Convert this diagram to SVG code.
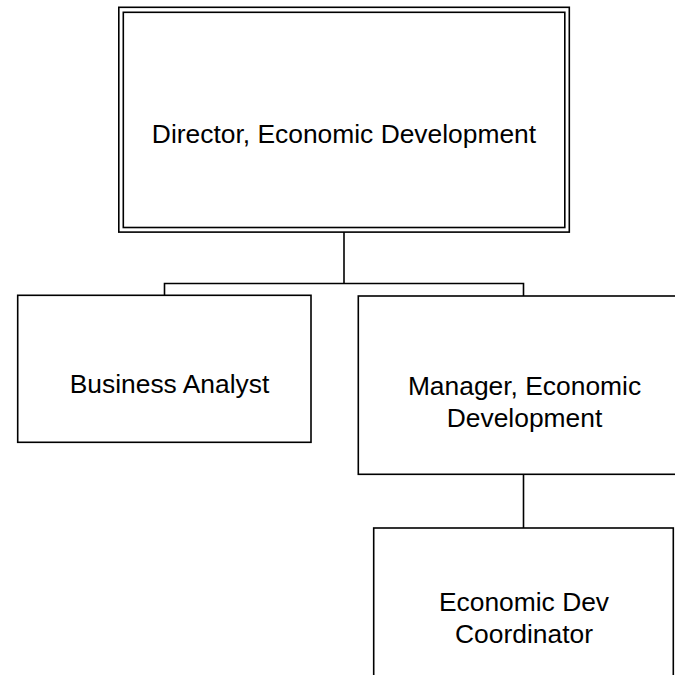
<svg xmlns="http://www.w3.org/2000/svg" width="675" height="675" viewBox="0 0 675 675">
<style>
.box{fill:#fff;stroke:#000;stroke-width:1.6}
.ln{fill:none;stroke:#000;stroke-width:1.6}
text{font-family:"Liberation Sans",Arial,sans-serif;font-size:26.4px;fill:#000;text-anchor:middle}
</style>
<rect width="675" height="675" fill="#fff"/>
<g id="connectors">
<line class="ln" x1="344" y1="232" x2="344" y2="283.5"/>
<polyline class="ln" points="164.5,295 164.5,283.5 523.5,283.5 523.5,296"/>
<line class="ln" x1="523.5" y1="474" x2="523.5" y2="528"/>
</g>
<g id="director">
<rect class="box" x="118.8" y="7.3" width="450.5" height="224.8"/>
<rect class="box" x="123.3" y="12.3" width="441.5" height="215.2"/>
<text x="344" y="143">Director, Economic Development</text>
</g>
<g id="business-analyst">
<rect class="box" x="17.7" y="295.3" width="293.3" height="147"/>
<text x="169.5" y="393">Business Analyst</text>
</g>
<g id="manager">
<rect class="box" x="358.3" y="296" width="340" height="178.3"/>
<text x="524.5" y="395">Manager, Economic</text>
<text x="524.5" y="427">Development</text>
</g>
<g id="coordinator">
<rect class="box" x="373.7" y="528" width="299.6" height="170"/>
<text x="524" y="610.5">Economic Dev</text>
<text x="524" y="642.5">Coordinator</text>
</g>
</svg>
